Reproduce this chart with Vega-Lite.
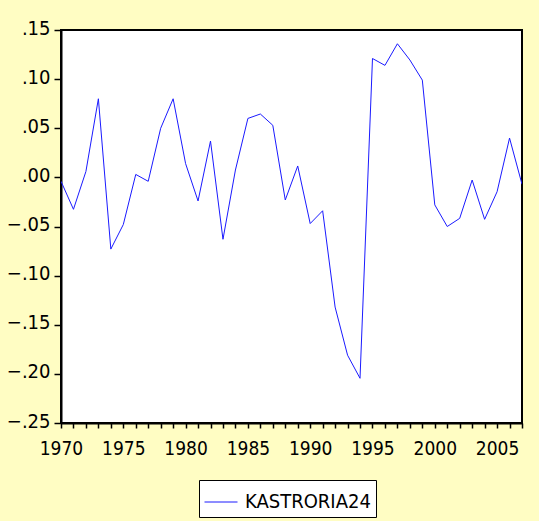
{
  "$schema": "https://vega.github.io/schema/vega-lite/v6.json",
  "width": 461,
  "height": 393,
  "autosize": "none",
  "padding": {"left": 61, "top": 30, "right": 17, "bottom": 98},
  "background": "#FFFDC3",
  "config": {
    "view": {"fill": "white", "stroke": "black", "strokeWidth": 2},
    "font": "DejaVu Sans Condensed, Liberation Sans"
  },
  "data": {
    "values": [
      {"year": 1970, "value": -0.004, "series": "KASTRORIA24"},
      {"year": 1971, "value": -0.0325, "series": "KASTRORIA24"},
      {"year": 1972, "value": 0.006, "series": "KASTRORIA24"},
      {"year": 1973, "value": 0.080, "series": "KASTRORIA24"},
      {"year": 1974, "value": -0.073, "series": "KASTRORIA24"},
      {"year": 1975, "value": -0.048, "series": "KASTRORIA24"},
      {"year": 1976, "value": 0.003, "series": "KASTRORIA24"},
      {"year": 1977, "value": -0.004, "series": "KASTRORIA24"},
      {"year": 1978, "value": 0.050, "series": "KASTRORIA24"},
      {"year": 1979, "value": 0.080, "series": "KASTRORIA24"},
      {"year": 1980, "value": 0.014, "series": "KASTRORIA24"},
      {"year": 1981, "value": -0.024, "series": "KASTRORIA24"},
      {"year": 1982, "value": 0.037, "series": "KASTRORIA24"},
      {"year": 1983, "value": -0.063, "series": "KASTRORIA24"},
      {"year": 1984, "value": 0.0075, "series": "KASTRORIA24"},
      {"year": 1985, "value": 0.060, "series": "KASTRORIA24"},
      {"year": 1986, "value": 0.0645, "series": "KASTRORIA24"},
      {"year": 1987, "value": 0.053, "series": "KASTRORIA24"},
      {"year": 1988, "value": -0.023, "series": "KASTRORIA24"},
      {"year": 1989, "value": 0.0116, "series": "KASTRORIA24"},
      {"year": 1990, "value": -0.047, "series": "KASTRORIA24"},
      {"year": 1991, "value": -0.034, "series": "KASTRORIA24"},
      {"year": 1992, "value": -0.132, "series": "KASTRORIA24"},
      {"year": 1993, "value": -0.181, "series": "KASTRORIA24"},
      {"year": 1994, "value": -0.2045, "series": "KASTRORIA24"},
      {"year": 1995, "value": 0.121, "series": "KASTRORIA24"},
      {"year": 1996, "value": 0.114, "series": "KASTRORIA24"},
      {"year": 1997, "value": 0.136, "series": "KASTRORIA24"},
      {"year": 1998, "value": 0.1195, "series": "KASTRORIA24"},
      {"year": 1999, "value": 0.099, "series": "KASTRORIA24"},
      {"year": 2000, "value": -0.028, "series": "KASTRORIA24"},
      {"year": 2001, "value": -0.050, "series": "KASTRORIA24"},
      {"year": 2002, "value": -0.0417, "series": "KASTRORIA24"},
      {"year": 2003, "value": -0.0027, "series": "KASTRORIA24"},
      {"year": 2004, "value": -0.0427, "series": "KASTRORIA24"},
      {"year": 2005, "value": -0.0146, "series": "KASTRORIA24"},
      {"year": 2006, "value": 0.040, "series": "KASTRORIA24"},
      {"year": 2007, "value": -0.007, "series": "KASTRORIA24"}
    ]
  },
  "mark": {"type": "line", "strokeWidth": 1, "clip": true},
  "encoding": {
    "x": {
      "field": "year",
      "type": "quantitative",
      "scale": {"domain": [1970, 2007], "nice": false, "zero": false},
      "axis": {
        "title": null,
        "grid": false,
        "values": [1970,1971,1972,1973,1974,1975,1976,1977,1978,1979,1980,1981,1982,1983,1984,1985,1986,1987,1988,1989,1990,1991,1992,1993,1994,1995,1996,1997,1998,1999,2000,2001,2002,2003,2004,2005,2006,2007],
        "labelExpr": "datum.value % 5 == 0 ? format(datum.value, 'd') : ''",
        "labelFontSize": 19,
        "labelColor": "black",
        "labelPadding": 11,
        "labelFlush": false,
        "labelOverlap": false,
        "domainColor": "black",
        "domainWidth": 2,
        "tickColor": "black",
        "tickWidth": 1.5,
        "tickSize": 5
      }
    },
    "y": {
      "field": "value",
      "type": "quantitative",
      "scale": {"domain": [-0.25, 0.15], "nice": false, "zero": false},
      "axis": {
        "title": null,
        "grid": false,
        "values": [-0.25, -0.2, -0.15, -0.1, -0.05, 0, 0.05, 0.1, 0.15],
        "labelExpr": "replace(format(datum.value, '.2f'), '0.', '.')",
        "labelFontSize": 20,
        "labelColor": "black",
        "labelPadding": 4,
        "labelOffset": -2,
        "labelFlush": false,
        "labelOverlap": false,
        "domainColor": "black",
        "domainWidth": 2,
        "tickColor": "black",
        "tickWidth": 1.5,
        "tickSize": 7
      }
    },
    "color": {
      "field": "series",
      "type": "nominal",
      "scale": {"range": ["#1a1aff"]},
      "legend": {
        "title": null,
        "orient": "none",
        "legendX": 138,
        "legendY": 450,
        "direction": "horizontal",
        "symbolType": "stroke",
        "symbolSize": 1089,
        "symbolStrokeWidth": 1,
        "labelFontSize": 20,
        "labelColor": "black",
        "labelOffset": 7,
        "padding": 5,
        "fillColor": "white",
        "strokeColor": "black",
        "cornerRadius": 0
      }
    }
  }
}
